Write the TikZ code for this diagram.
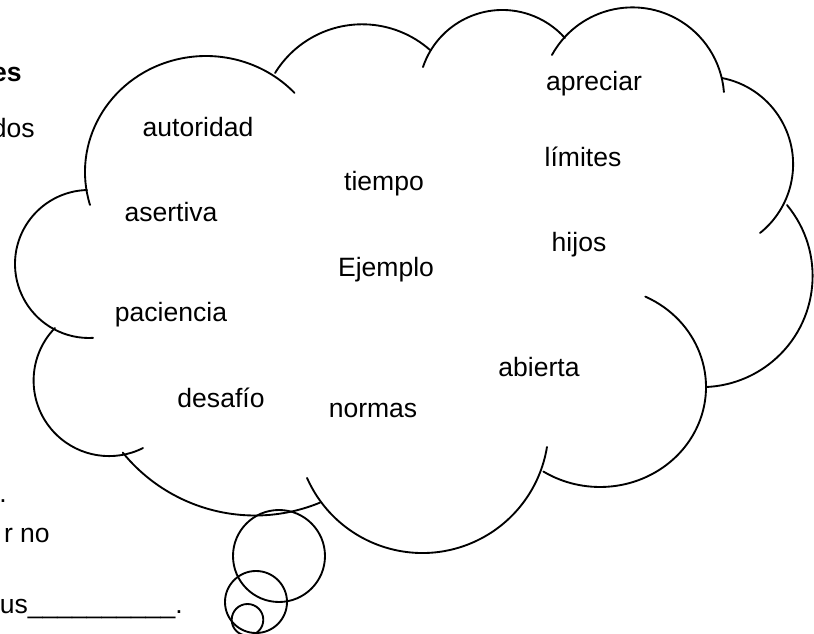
\documentclass[tikz,border=0pt]{standalone}
\usepackage{fontspec}
\setmainfont{Liberation Sans}

\begin{document}
\begin{tikzpicture}[
    x=0.75pt, y=-0.75pt,
    word/.style={anchor=base, inner sep=0pt, font=\fontsize{19.9}{24}\selectfont},
    behind/.style={word, anchor=base east},
    lobe/.style={line width=1.4pt, line cap=round},
    bubble/.style={line width=1.4pt}
]
    \clip (0,0) rectangle (814,634);
    \fill[white] (0,0) rectangle (814,634);

    % text of the page, half hidden by the cloud
    \node[behind, font=\fontsize{19.9}{24}\selectfont\bfseries] (es) at (22,82) {es};
    \node[behind] (dos) at (35,138) {dos};
    \node[behind] (dot) at (7,503) {.};
    \node[behind] (rno) at (50,542) {r no};
    \node[behind] (us) at (183,613) {us\_\_\_\_\_\_\_\_\_\_.};

    % cloud
    \draw[lobe] (206,172) ++(163.5:121 and 116) arc[start angle=163.5, end angle=317, x radius=121, y radius=116];
    \draw[lobe] (362.2,126.6) ++(211.6:102.3) arc[start angle=211.6, end angle=311.5, radius=102.3];
    \draw[lobe] (502.4,93.8) ++(198.6:83.8) arc[start angle=198.6, end angle=318.3, radius=83.8];
    \draw[lobe] (632.4,99.2) ++(208.8:91.8) arc[start angle=208.8, end angle=355.5, radius=91.8];
    \draw[lobe] (705.2,164.3) ++(-79:87.9) arc[start angle=-79, end angle=51.4, radius=87.9];
    \draw[lobe] (701.5,276) ++(-39.7:111.1) arc[start angle=-39.7, end angle=87.2, radius=111.1];
    \draw[lobe] (600,387) ++(-64.7:106 and 100) arc[start angle=-64.7, end angle=122.3, x radius=106, y radius=100];
    \draw[lobe] (422.4,426.8) ++(156.1:126.2) arc[start angle=156.1, end angle=9.2, radius=126.2];
    \draw[lobe] (255,345) ++(140.9:170.5) arc[start angle=140.9, end angle=67.6, radius=170.5];
    \draw[lobe] (109.1,380.6) ++(224.2:75.5) arc[start angle=224.2, end angle=63.3, radius=75.5];
    \draw[lobe] (89,264) ++(268.5:74) arc[start angle=268.5, end angle=86.9, radius=74];

    % thought bubbles
    \draw[bubble] (279,556) circle[radius=46];
    \draw[bubble] (256,602) circle[radius=31];
    \draw[bubble] (247.5,619.8) circle[radius=15.8];

    \node[word] (autoridad) at (198,137) {autoridad};
    \node[word] (tiempo) at (384,191) {tiempo};
    \node[word] (asertiva) at (171,222) {asertiva};
    \node[word] (ejemplo) at (386,277) {Ejemplo};
    \node[word] (paciencia) at (171,322) {paciencia};
    \node[word] (desafio) at (221,408) {desafío};
    \node[word] (normas) at (373,418) {normas};
    \node[word] (abierta) at (539,377) {abierta};
    \node[word] (apreciar) at (594,91) {apreciar};
    \node[word] (limites) at (583,167) {límites};
    \node[word] (hijos) at (579,252) {hijos};
\end{tikzpicture}
\end{document}
